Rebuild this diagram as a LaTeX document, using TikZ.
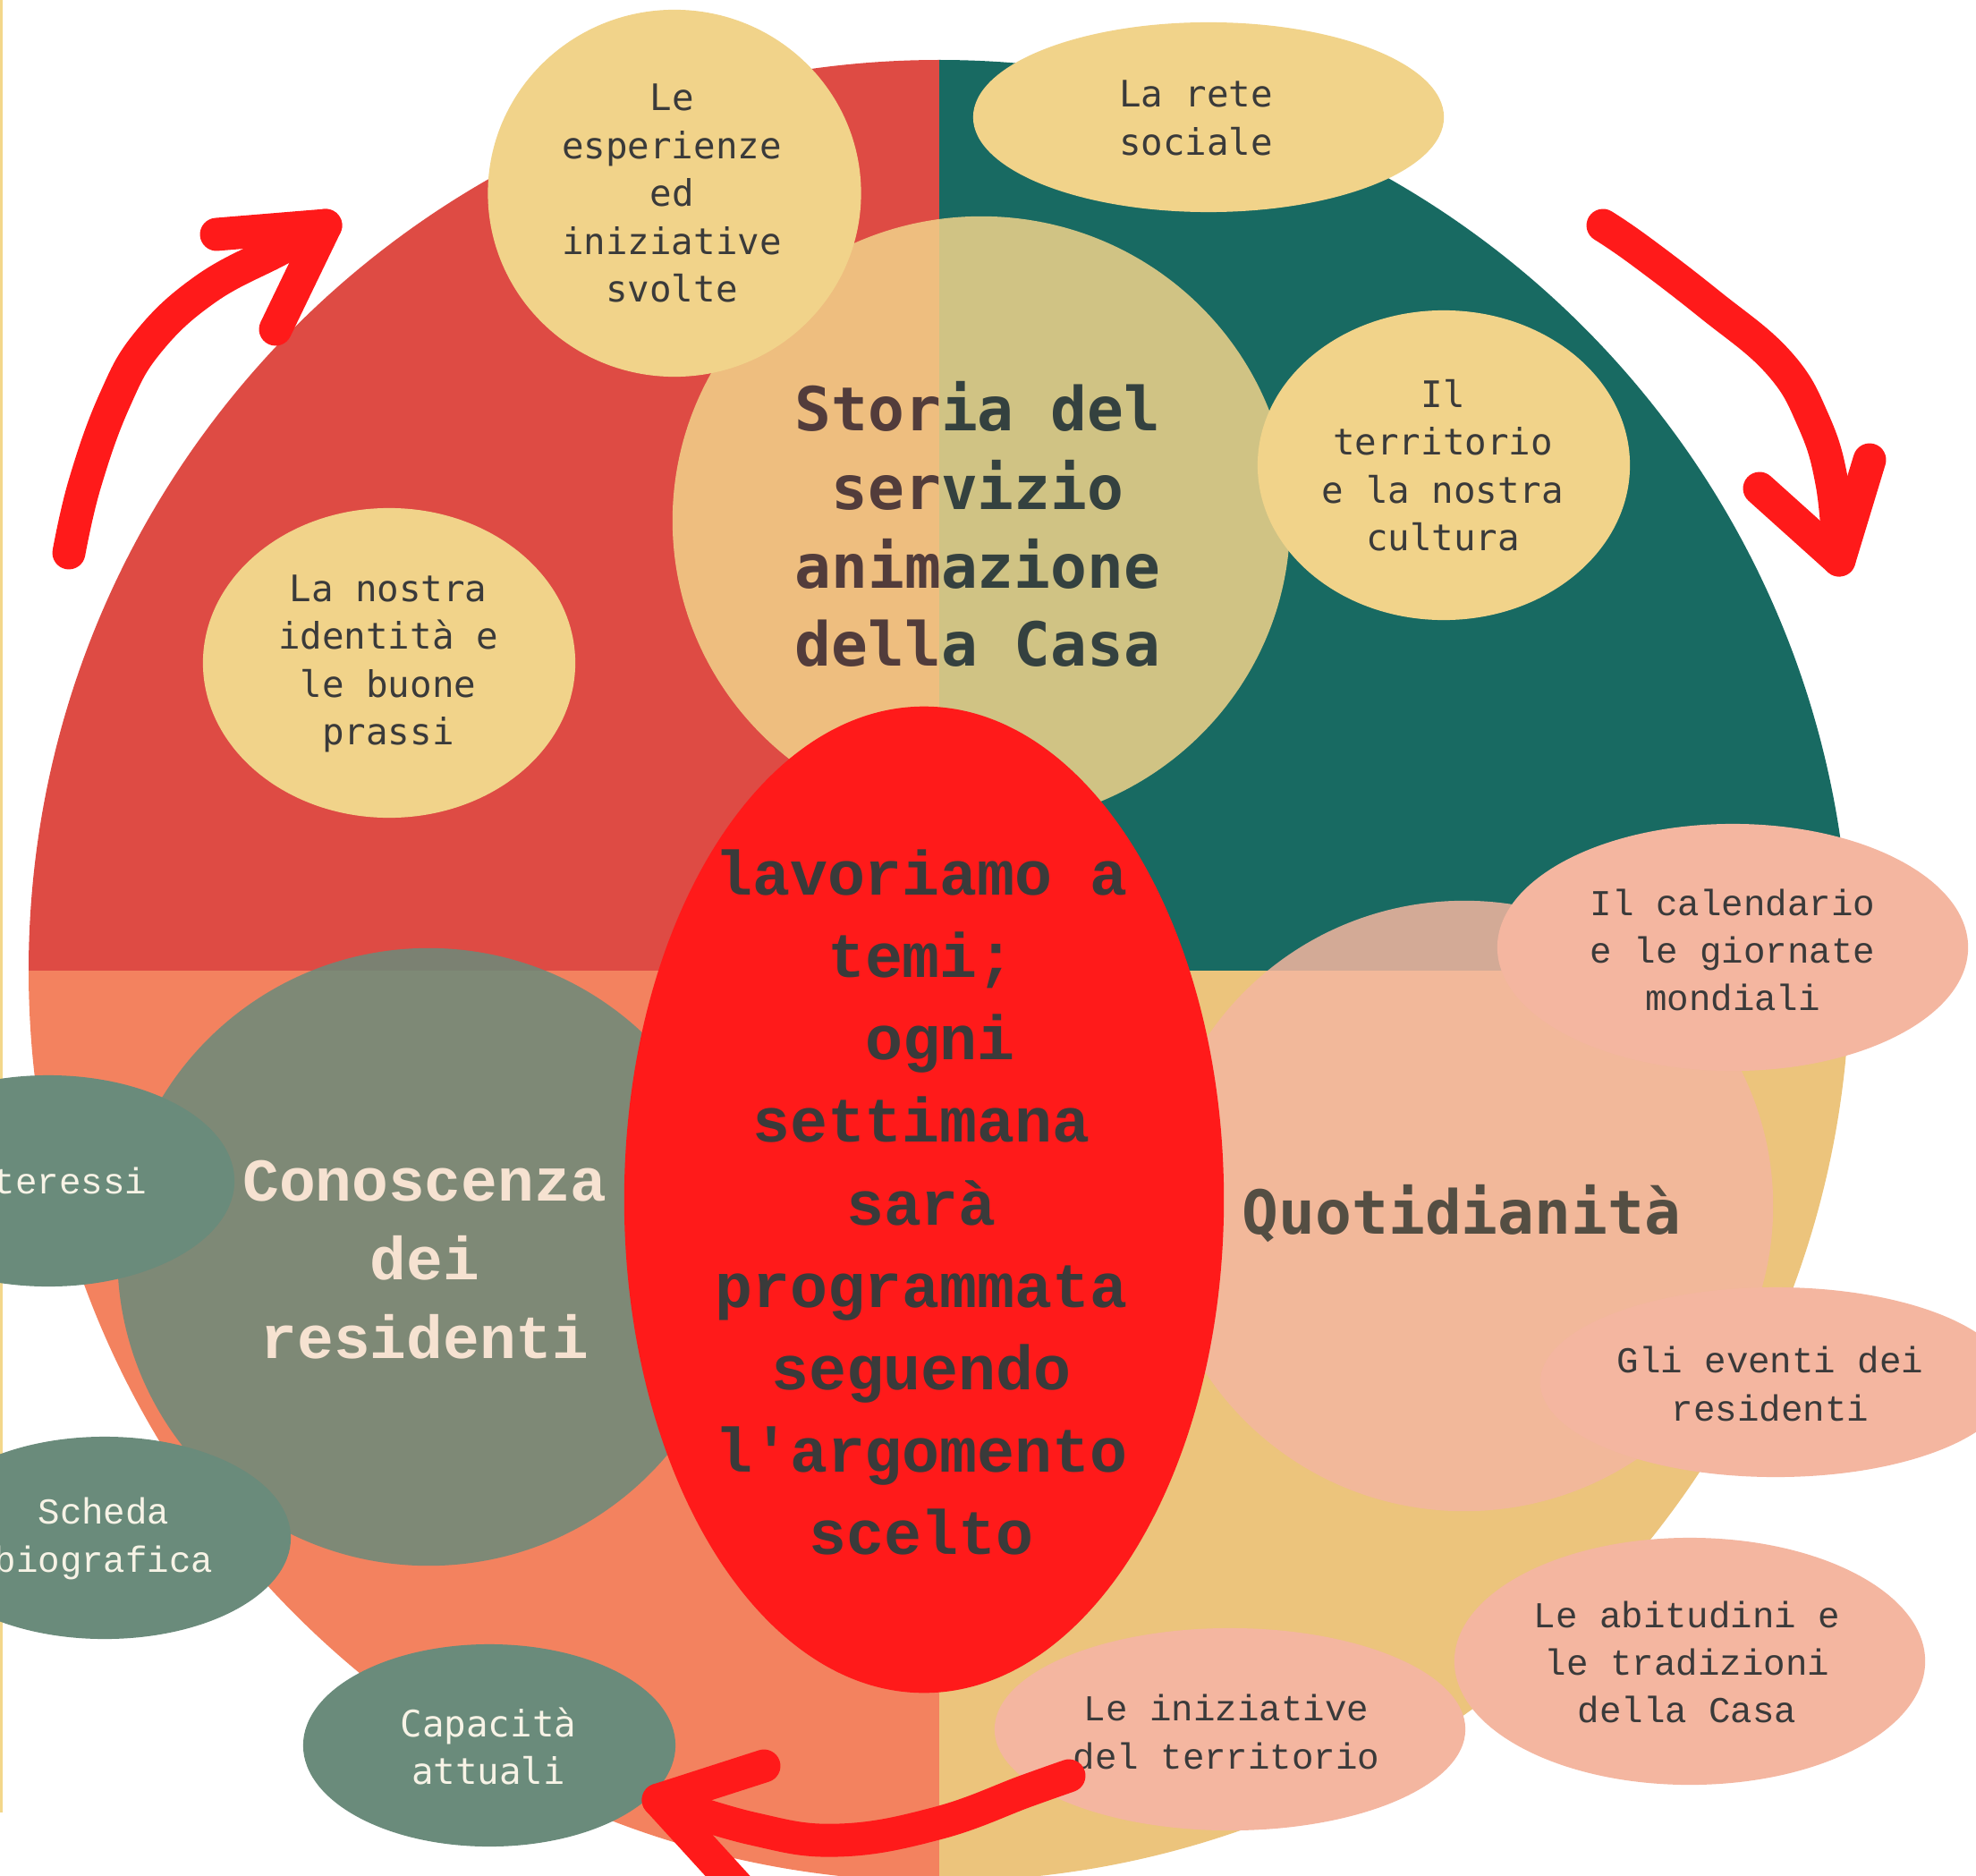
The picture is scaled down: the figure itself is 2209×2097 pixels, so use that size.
\documentclass[tikz,border=0pt]{standalone}
\usepackage{fontspec}
\usepackage{tikz}
\usetikzlibrary{shapes.geometric}
\newfontfamily\courmono{Liberation Mono}[Ligatures=TeXOff]
\newfontfamily\sansmono{DejaVu Sans Mono}
\definecolor{qred}{HTML}{DE4B44}
\definecolor{qteal}{HTML}{186A62}
\definecolor{qsalmon}{HTML}{F3825F}
\definecolor{qsand}{HTML}{ECC47C}
\definecolor{sand}{HTML}{F1D38A}
\definecolor{blush}{HTML}{F4B6A0}
\definecolor{sage}{HTML}{6A8B7B}
\definecolor{hotred}{HTML}{FF1A1A}
\definecolor{ink}{HTML}{3A3A3A}
\definecolor{cream}{HTML}{F7F3E6}
\definecolor{edgegold}{HTML}{F3D78A}

\begin{document}
\begin{tikzpicture}[x=0.01cm,y=-0.01cm]
    \tikzstyle{bubble}=[ellipse,inner sep=0pt,draw=none]
    \tikzstyle{sanstxt}=[align=center,text=ink,font=\sansmono\fontsize{11.6}{15.2}\selectfont]
    \tikzstyle{courtxt}=[align=center,text=ink,font=\courmono\fontsize{11.6}{15.2}\selectfont]
    \tikzstyle{bigsans}=[align=center,text=ink,font=\sansmono\bfseries\fontsize{19.3}{25}\selectfont]
    \tikzstyle{bigcour}=[align=center,font=\courmono\bfseries\fontsize{19.3}{25}\selectfont]
    \tikzstyle{brush}=[draw=hotred,line width=10.5pt,line cap=round,line join=round]
    \useasboundingbox (0,0) rectangle (2209,2097);
    \clip (0,0) rectangle (2209,2097);
    \fill[white] (0,0) rectangle (2209,2097);
    \fill[edgegold] (0,0) rectangle (3,2026);
    \coordinate (qc) at (1050,1085);
    \foreach \qcol/\xa/\ya/\xb/\yb in {qred/0/0/1050/1085,qteal/1050/0/2209/1085,qsalmon/0/1085/1050/2097,qsand/1050/1085/2209/2097}{
        \begin{scope}
            \clip (\xa,\ya) rectangle (\xb,\yb);
            \fill[\qcol] (qc) circle[radius=1018];
        \end{scope}
    }
    \begin{scope}[transparency group,opacity=0.85]
        \node[bubble,fill=sand,minimum width=6.9cm,minimum height=6.8cm] (storia) at (1097,582) {};
        \node[bigsans] (storia-t) at (1093,586) {Storia del\\servizio\\animazione\\della Casa};
    \end{scope}
    \begin{scope}[transparency group,opacity=0.85]
        \node[bubble,fill=sage,minimum width=6.95cm,minimum height=6.9cm] (conosc) at (479,1405) {};
        \node[bigcour,text=cream] (conosc-t) at (475,1408) {Conoscenza\\dei\\residenti};
    \end{scope}
    \begin{scope}[transparency group,opacity=0.85]
        \node[bubble,fill=blush,minimum width=6.9cm,minimum height=6.82cm] (quot) at (1637,1348) {};
        \node[bigsans] (quot-t) at (1634,1357) {Quotidianità};
    \end{scope}
    \node[bubble,fill=hotred,minimum width=6.7cm,minimum height=11.02cm] (temi) at (1033,1341) {};
    \node[align=center,text=ink,font=\courmono\bfseries\fontsize{19.9}{26.2}\selectfont] (temi-t) at (1030,1344)
        {lavoriamo a\\temi;\\\phantom{o}ogni\\settimana\\sarà\\programmata\\seguendo\\l'argomento\\scelto};
    \node[bubble,fill=sand,minimum width=4.17cm,minimum height=4.1cm] (esper) at (754,216) {};
    \node[sanstxt] (esper-t) at (751,216) {Le\\esperienze\\ed\\iniziative\\svolte};
    \node[bubble,fill=sand,minimum width=5.26cm,minimum height=2.12cm] (rete) at (1351,131) {};
    \node[sanstxt] (rete-t) at (1337,132) {La rete\\sociale};
    \node[bubble,fill=sand,minimum width=4.16cm,minimum height=3.46cm] (terr) at (1614,520) {};
    \node[sanstxt] (terr-t) at (1613,520) {Il\\territorio\\e la nostra\\cultura};
    \node[bubble,fill=sand,minimum width=4.16cm,minimum height=3.46cm] (ident) at (435,741) {};
    \node[sanstxt] (ident-t) at (434,742) {La nostra\\identità e\\le buone\\prassi};
    \node[bubble,fill=sage,minimum width=4.16cm,minimum height=2.36cm] (inter) at (54,1320) {};
    \node[courtxt,text=cream] (inter-t) at (54,1320) {Interessi};
    \node[bubble,fill=sage,minimum width=4.16cm,minimum height=2.26cm] (scheda) at (117,1719) {};
    \node[courtxt,text=cream] (scheda-t) at (116,1720) {Scheda\\biografica};
    \node[bubble,fill=sage,minimum width=4.16cm,minimum height=2.26cm] (capac) at (547,1951) {};
    \node[sanstxt,text=cream] (capac-t) at (546,1952) {Capacità\\attuali};
    \node[bubble,fill=blush,minimum width=5.26cm,minimum height=2.76cm] (calend) at (1937,1059) {};
    \node[courtxt] (calend-t) at (1937,1062) {Il calendario\\e le giornate\\mondiali};
    \node[bubble,fill=blush,minimum width=5.26cm,minimum height=2.12cm] (eventi) at (1985,1545) {};
    \node[courtxt] (eventi-t) at (1979,1547) {Gli eventi dei\\residenti};
    \node[bubble,fill=blush,minimum width=5.26cm,minimum height=2.76cm] (abitud) at (1889,1857) {};
    \node[courtxt] (abitud-t) at (1886,1858) {Le abitudini e\\le tradizioni\\della Casa};
    \node[bubble,fill=blush,minimum width=5.26cm,minimum height=2.26cm] (inizia) at (1375,1933) {};
    \node[courtxt] (inizia-t) at (1371,1936) {Le iniziative\\del territorio};
    \coordinate (a1s) at (77,618);
    \coordinate (a1t) at (364,252);
    \coordinate (a2s) at (1792,252);
    \coordinate (a2t) at (2056,626);
    \coordinate (a3s) at (1195,1985);
    \coordinate (a3t) at (736,2012);
    \draw[brush] plot[smooth,tension=0.7] coordinates {(a1s) (95,540) (128,448) (166,382) (230,323) (310,280) (a1t)};
    \draw[brush] (242,262) -- (a1t) -- (308,368);
    \draw[brush] plot[smooth,tension=0.7] coordinates {(a2s) (1833,280) (1911,340) (1988,405) (2027,470) (2048,540) (a2t)};
    \draw[brush] (1967,546) -- (a2t) -- (2090,514);
    \draw[brush] plot[smooth,tension=0.7] coordinates {(a3s) (1147,2002) (1048,2038) (937,2057) (841,2044) (a3t)};
    \draw[brush] (854,1974) -- (a3t) -- (830,2115);
\end{tikzpicture}
\end{document}
